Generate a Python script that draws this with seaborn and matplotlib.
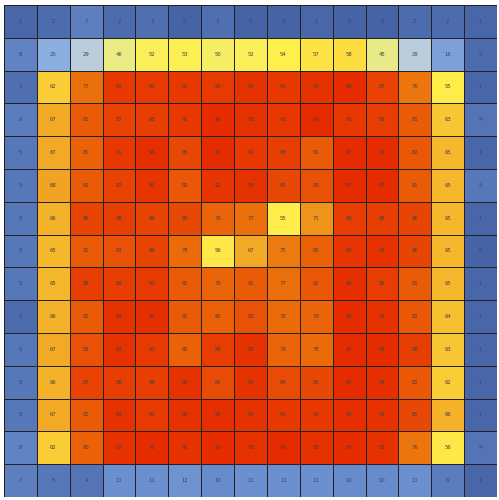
import numpy as np
import pandas as pd
import matplotlib
matplotlib.use("Agg")
import matplotlib.pyplot as plt
import seaborn as sns
from matplotlib.colors import LinearSegmentedColormap

# Grid values, one list per row (top to bottom)
row_00 = [1, 2, 7, 2, 3, 0, 3, 0, 0, 1, 0, 0, 2, 2, 1]
row_01 = [8, 20, 29, 46, 52, 53, 50, 52, 54, 57, 58, 45, 29, 16, 2]
row_02 = [3, 62, 77, 91, 90, 91, 90, 93, 91, 93, 96, 87, 76, 55, 1]
row_03 = [6, 67, 81, 87, 88, 91, 96, 93, 91, 97, 91, 89, 81, 63, 4]
row_04 = [5, 67, 80, 91, 94, 85, 97, 91, 88, 81, 97, 97, 82, 65, 1]
row_05 = [5, 68, 81, 87, 92, 82, 92, 93, 85, 83, 97, 97, 81, 65, 5]
row_06 = [5, 66, 86, 88, 86, 85, 79, 77, 55, 71, 89, 88, 86, 65, 1]
row_07 = [5, 65, 81, 83, 86, 78, 56, 67, 75, 80, 92, 93, 86, 65, 0]
row_08 = [5, 65, 88, 89, 90, 81, 79, 81, 77, 82, 94, 89, 81, 65, 1]
row_09 = [2, 66, 81, 93, 94, 81, 80, 83, 78, 79, 96, 93, 82, 64, 1]
row_10 = [5, 67, 83, 93, 90, 80, 89, 93, 79, 78, 97, 95, 88, 63, 1]
row_11 = [5, 66, 87, 88, 88, 93, 84, 93, 84, 85, 97, 94, 82, 62, 1]
row_12 = [5, 67, 81, 93, 90, 93, 94, 93, 91, 91, 94, 93, 85, 66, 1]
row_13 = [8, 62, 80, 93, 95, 93, 95, 93, 97, 93, 95, 93, 76, 56, 4]
row_14 = [7, 5, 4, 11, 11, 12, 10, 11, 11, 11, 10, 10, 11, 6, 1]

rows = [row_00, row_01, row_02, row_03, row_04, row_05, row_06, row_07,
        row_08, row_09, row_10, row_11, row_12, row_13, row_14]
data = pd.DataFrame(np.array(rows))

stops = [
    (0.00, "#4664a5"),
    (0.10, "#698ccd"),
    (0.20, "#8cafe1"),
    (0.29, "#b9cddc"),
    (0.46, "#ebeb82"),
    (0.54, "#fff04b"),
    (0.62, "#facd37"),
    (0.67, "#f2aa26"),
    (0.77, "#eb700a"),
    (0.85, "#e84805"),
    (0.95, "#e62d00"),
    (1.00, "#e42800"),
]
cmap = LinearSegmentedColormap.from_list("custom", stops)

fig = plt.figure(figsize=(4.99, 5.00), dpi=100)
ax = fig.add_axes([4 / 499, 3 / 500, 493 / 499, 492 / 500])
sns.heatmap(data, ax=ax, cmap=cmap, vmin=0, vmax=100, annot=True, fmt="d",
            annot_kws={"fontsize": 3.8, "color": "#444444"},
            linewidths=0.5, linecolor="#222222", cbar=False,
            xticklabels=False, yticklabels=False)
ax.set_xlabel("")
ax.set_ylabel("")
fig.savefig("out.png", dpi=100)
